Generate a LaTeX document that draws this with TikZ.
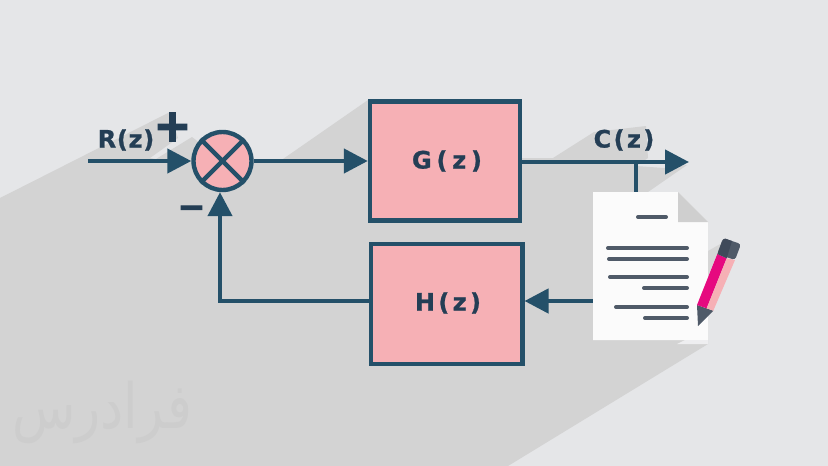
\documentclass[tikz,border=0pt]{standalone}
\usepackage{fontspec}
\usetikzlibrary{arrows.meta,shapes.geometric}
\setmainfont[FakeBold=1]{DejaVu Sans Bold}
\newfontfamily\arabicfont[Script=Arabic]{DejaVu Sans}
\newfontfamily\symfont[FakeBold=3]{DejaVu Sans Bold}
\TeXXeTstate=1
\definecolor{bgc}{HTML}{E5E6E8}
\definecolor{shadowc}{HTML}{D3D3D3}
\definecolor{wire}{HTML}{245069}
\definecolor{ink}{HTML}{243E55}
\definecolor{rose}{HTML}{F6B0B5}
\definecolor{slate}{HTML}{4F5A68}
\definecolor{slatedark}{HTML}{3F4A5A}
\definecolor{magent}{HTML}{E6097F}
\definecolor{paper}{HTML}{FBFBFB}
\definecolor{foldc}{HTML}{CFCFCF}
\definecolor{brandc}{HTML}{CDCDCD}
\tikzset{
  x=1pt,y=-1pt,
  block/.style={draw=wire,fill=rose,line width=4.4pt,inner sep=0pt},
  wirearrow/.style={draw=wire,line width=4.4pt,-{Triangle[length=24pt,width=24pt]}},
  wireplain/.style={draw=wire,line width=4.4pt},
  lbl/.style={text=ink,inner sep=0pt,font=\fontsize{24}{24}\selectfont},
  docline/.style={draw=slate,line width=4pt,line cap=round},
}
\begin{document}
\begin{tikzpicture}
\useasboundingbox (0,0) rectangle (828,466);
\fill[bgc] (0,0) rectangle (828,466);
% long shadow
\fill[shadowc] (0,198) -- (170,112) -- (178,138) -- (150,158) -- (156,159) -- (192,137)
  -- (222,160) -- (283,159) -- (368,100) -- (522,158) -- (553,158) -- (594,132)
  -- (646,126) -- (648,158) -- (636,166) -- (664,168) -- (687,165) -- (648,192)
  -- (677,193) -- (708,222) -- (708,344) -- (508,466) -- (0,466) -- cycle;
\node[text=brandc,inner sep=0pt,yscale=1.2,transform shape] (brand) at (102,412)
  {\arabicfont\fontsize{52}{52}\selectfont\beginR فرادرس\endR};
% blocks
\node[block,minimum width=150pt,minimum height=119pt] (G) at (445,161) {};
\node[block,minimum width=151.6pt,minimum height=120pt] (H) at (446.5,304) {};
\node[block,circle,minimum size=58pt] (sum) at (222.5,161) {};
\node[lbl] (Gt) at (447,161) {\addfontfeature{LetterSpace=20}G(z)};
\node[lbl] (Ht) at (448,303) {\addfontfeature{LetterSpace=14}H(z)};
\node[lbl] (Rt) at (126,140) {\addfontfeature{LetterSpace=3}R(z)};
\node[lbl] (Ct) at (624,140) {\addfontfeature{LetterSpace=10}C(z)};
\node[text=ink,inner sep=0pt,font=\symfont\fontsize{45}{45}\selectfont] (plus) at (172.5,127) {+};
\node[text=ink,inner sep=0pt,font=\symfont\fontsize{33}{33}\selectfont] (minus) at (191.5,212) {−};
% document sheet
\node[minimum width=115pt,minimum height=148pt,inner sep=0pt,outer sep=0pt] (doc) at (650.5,266) {};
% connectors
\coordinate (in) at (88,161);
\coordinate (out) at (689,162);
\coordinate (tap) at (636,162);
\draw[wireplain] (sum.45) -- (sum.225);
\draw[wireplain] (sum.135) -- (sum.315);
\draw[wirearrow] (in) -- (sum.west);
\draw[wirearrow] (sum.east) -- (G.west);
\draw[wirearrow] (G.east |- out) -- (out);
\draw[wireplain] (tap) -- (tap |- doc.north);
\draw[wirearrow] ([yshift=3pt]doc.west |- H.east) -- ([yshift=3pt]H.east);
\draw[wirearrow] ([yshift=3pt]H.west) -| ([xshift=-2.5pt]sum.south);
% sheet
\fill[paper] (doc.south west) -- (doc.north west) -- ([xshift=-30pt]doc.north east)
  -- ([yshift=-30pt]doc.north east) -- (doc.south east) -- cycle;
\fill[foldc] ([xshift=-30pt]doc.north east) -- ([yshift=-30pt]doc.north east)
  -- ([xshift=-30pt,yshift=-30pt]doc.north east) -- cycle;
\fill[bgc!60!paper] (677,344) -- (685,340) -- (708,340) -- (708,344) -- cycle;
\draw[docline] (638,217) -- (666,217);
\draw[docline] (608,248) -- (687,248);
\draw[docline] (609,259) -- (687,259);
\draw[docline] (610,277) -- (687,277);
\draw[docline] (644,288) -- (687,288);
\draw[docline] (616,307) -- (687,307);
\draw[docline] (645,318) -- (687,318);
% pencil
\fill[shadowc!85!bgc] (708,251) -- (722,243) -- (717,254) -- (708,276) -- cycle;
\fill[slate] (697,305) -- (713.3,310.7) -- (698,326) -- cycle;
\fill[magent] (697,305) -- (706.7,308.3) -- (726.7,258.3) -- (717.3,254) -- cycle;
\fill[rose] (706.7,308.3) -- (713.3,310.7) -- (735,260) -- (726.7,258.3) -- cycle;
\fill[slate,rounded corners=3pt] (717.3,254) -- (735,260) -- (741,244) -- (723,238) -- cycle;
\fill[slatedark] (717.3,254) -- (726.7,258.3) -- (732,241) -- (725,238.5) -- (723,240) -- cycle;
\end{tikzpicture}
\end{document}
